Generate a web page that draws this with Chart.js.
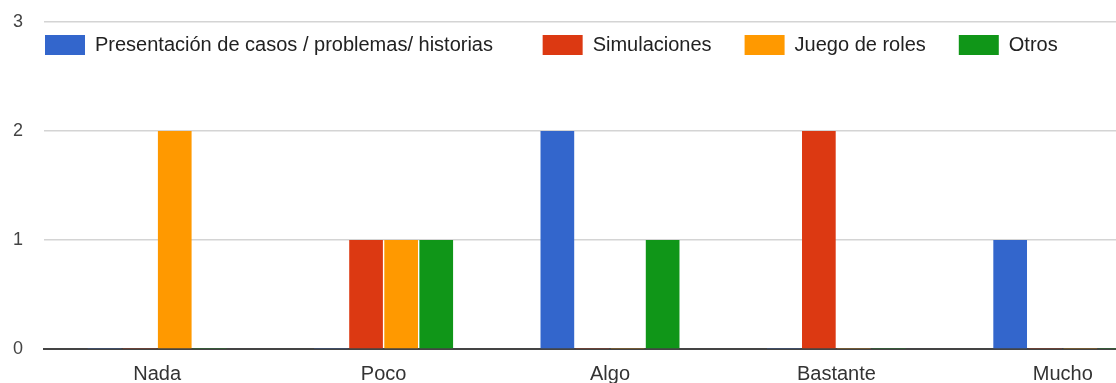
<!DOCTYPE html>
<html><head><meta charset="utf-8">
<script src="https://cdn.jsdelivr.net/npm/chart.js@4"></script>
<style>html,body{margin:0;padding:0;overflow:hidden;background:#fff}#wrap{width:1176px;height:383px;position:relative}</style>
</head><body><div id="wrap"><canvas id="c"></canvas></div>
<script>
const categories = ['Nada', 'Poco', 'Algo', 'Bastante', 'Mucho'];
const seriesNames = ['Presentación de casos / problemas/ historias', 'Simulaciones', 'Juego de roles', 'Otros'];
const presentacion = [0, 0, 2, 0, 1];
const simulaciones = [0, 1, 0, 2, 0];
const juegoRoles = [2, 1, 0, 0, 0];
const otros = [0, 1, 1, 0, 0];
const yTicks = [0, 1, 2, 3];
const colors = ['#3366cc', '#dc3912', '#ff9900', '#109618'];

const seriesValues = [presentacion, simulaciones, juegoRoles, otros];
const FONT = '"Liberation Sans", Arial, sans-serif';

const legendOverlay = {
  id: 'legendOverlay',
  beforeLayout(chart) {
    const lg = chart.legend;
    if (lg && !lg.__patched) {
      const fit = lg.fit;
      lg.fit = function () { fit.call(this); this.__h = this.height; this.height = 0; };
      lg.__patched = true;
    }
  },
  afterLayout(chart) {
    const lg = chart.legend;
    if (lg && lg.__h !== undefined) {
      const pad = lg.options.labels.padding;
      lg.top = 35 - pad;
      lg.height = lg.__h;
      lg.bottom = lg.top + lg.__h;
      lg.left = 45 - pad;
    }
  }
};

new Chart(document.getElementById('c'), {
  type: 'bar',
  data: {
    labels: categories,
    datasets: seriesNames.map((n, i) => ({
      label: n,
      data: seriesValues[i],
      backgroundColor: colors[i],
      borderWidth: 0,
      minBarLength: 1,
      categoryPercentage: 0.62,
      barPercentage: 0.96
    }))
  },
  options: {
    responsive: true,
    maintainAspectRatio: false,
    animation: false,
    layout: { autoPadding: false, padding: { top: 22, right: 0, left: 0, bottom: 0 } },
    plugins: {
      tooltip: { enabled: false },
      legend: {
        position: 'top',
        align: 'start',
        labels: {
          boxWidth: 40,
          boxHeight: 20,
          padding: 33,
          color: '#222',
          font: { family: FONT, size: 20 },
          generateLabels(chart) {
            const items = Chart.defaults.plugins.legend.labels.generateLabels(chart);
            if (items.length) items[0].text = items[0].text + '   ';
            return items;
          }
        }
      }
    },
    scales: {
      x: {
        afterFit(scale) { scale.height = 34; },
        grid: { display: false, drawTicks: false },
        border: { display: true, color: '#444', width: 2 },
        ticks: { color: '#333', padding: 13, font: { family: FONT, size: 20 }, maxRotation: 0 }
      },
      y: {
        min: 0,
        max: 3,
        afterFit(scale) { scale.width = 44; },
        afterBuildTicks(scale) { scale.ticks = yTicks.map(v => ({ value: v })); },
        grid: { color: '#d4d4d4', lineWidth: 1.5, drawTicks: true, tickLength: 18, tickColor: 'rgba(0,0,0,0)' },
        border: { display: false },
        ticks: { color: '#444', padding: 3, font: { family: FONT, size: 18 } }
      }
    }
  },
  plugins: [legendOverlay]
});
</script>
</body></html>
